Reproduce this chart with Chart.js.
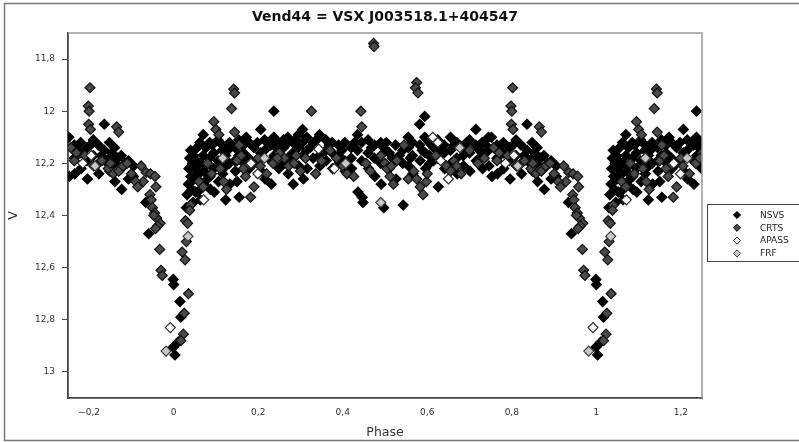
<!DOCTYPE html>
<html>
<head>
<meta charset="utf-8">
<script src="https://cdn.jsdelivr.net/npm/chart.js@4.4.1/dist/chart.umd.min.js"></script>
<style>
  html, body { margin: 0; padding: 0; background: #fff; }
</style>
</head>
<body>
<canvas id="lightCurve" width="799" height="442"></canvas>
<script>
const chartTitle = "Vend44 = VSX J003518.1+404547";
const seriesNames = ["NSVS", "CRTS", "APASS", "FRF"];
const xTicks = [-0.2, 0, 0.2, 0.4, 0.6, 0.8, 1, 1.2];
const yTicks = [11.8, 12, 12.2, 12.4, 12.6, 12.8, 13];

// [phase, V] pairs, phase folded to 0..1 (shown again at phase-1 and phase+1)
const nsvs = [
  [0.999,12.645],[0.000,12.665],[0.003,12.935],[0.999,12.905],[0.015,12.73],[0.017,12.79],[0.011,12.885],
  [0.941,12.47],[0.934,12.35],
  [0.030,12.37],[0.032,12.32],[0.035,12.28],[0.036,12.22],[0.038,12.18],[0.040,12.15],[0.041,12.25],
  [0.043,12.30],[0.044,12.20],[0.046,12.35],[0.047,12.17],[0.049,12.26],[0.050,12.22],[0.052,12.31],[0.053,12.19],
  [0.055,12.14],[0.056,12.26],[0.057,12.31],[0.062,12.12],[0.062,12.20],[0.063,12.34],[0.060,12.24],
  [0.070,12.09],[0.070,12.17],[0.071,12.23],[0.072,12.28],[0.076,12.14],[0.077,12.21],[0.080,12.26],
  [0.085,12.12],[0.085,12.18],[0.086,12.25],[0.087,12.30],[0.095,12.16],[0.095,12.22],[0.096,12.31],[0.091,12.13],
  [0.105,12.11],[0.105,12.19],[0.106,12.27],[0.115,12.13],[0.115,12.15],[0.116,12.24],[0.110,12.20],
  [0.123,12.17],[0.123,12.34],[0.124,12.21],[0.132,12.12],[0.132,12.20],[0.133,12.28],[0.128,12.15],
  [0.145,12.14],[0.145,12.19],[0.146,12.23],[0.154,12.11],[0.154,12.17],[0.155,12.33],[0.150,12.27],
  [0.165,12.13],[0.165,12.16],[0.166,12.20],[0.178,12.12],[0.178,12.18],[0.179,12.22],[0.172,12.10],
  [0.190,12.14],[0.190,12.20],[0.206,12.07],[0.206,12.16],[0.207,12.23],[0.198,12.12],[0.200,12.19],
  [0.215,12.11],[0.215,12.15],[0.216,12.26],[0.230,12.13],[0.230,12.19],[0.231,12.28],[0.222,12.12],
  [0.237,12.00],[0.237,12.10],[0.238,12.17],[0.248,12.12],[0.248,12.16],[0.249,12.22],[0.243,12.14],
  [0.260,12.11],[0.260,12.14],[0.261,12.20],[0.270,12.10],[0.270,12.18],[0.271,12.24],[0.265,12.13],
  [0.282,12.12],[0.282,12.16],[0.283,12.28],[0.295,12.09],[0.295,12.14],[0.296,12.21],[0.288,12.11],
  [0.305,12.07],[0.305,12.12],[0.306,12.17],[0.307,12.26],[0.315,12.10],[0.315,12.15],[0.316,12.22],
  [0.330,12.12],[0.330,12.18],[0.345,12.09],[0.345,12.17],[0.346,12.21],[0.323,12.14],[0.338,12.11],
  [0.360,12.11],[0.360,12.15],[0.361,12.19],[0.375,12.12],[0.375,12.16],[0.376,12.22],[0.368,12.13],
  [0.390,12.13],[0.390,12.17],[0.391,12.20],[0.405,12.12],[0.405,12.19],[0.406,12.23],[0.398,12.15],
  [0.420,12.14],[0.420,12.18],[0.421,12.22],[0.435,12.09],[0.435,12.15],[0.436,12.31],[0.428,12.12],
  [0.445,12.12],[0.445,12.19],[0.446,12.33],[0.448,12.35],[0.460,12.11],[0.460,12.16],[0.461,12.22],
  [0.475,12.13],[0.475,12.18],[0.476,12.25],[0.490,12.12],[0.490,12.20],[0.491,12.28],[0.468,12.14],
  [0.497,12.14],[0.497,12.37],[0.510,12.16],[0.510,12.22],[0.503,12.12],[0.517,12.18],
  [0.525,12.13],[0.525,12.19],[0.526,12.26],[0.542,12.15],[0.542,12.20],[0.543,12.36],[0.534,12.17],
  [0.555,12.10],[0.555,12.14],[0.556,12.21],[0.565,12.12],[0.565,12.17],[0.566,12.24],[0.560,12.18],
  [0.582,12.05],[0.582,12.13],[0.583,12.19],[0.594,12.02],[0.594,12.10],[0.595,12.16],[0.596,12.22],
  [0.605,12.12],[0.605,12.17],[0.606,12.20],[0.615,12.14],[0.615,12.19],[0.588,12.15],[0.610,12.13],
  [0.625,12.11],[0.625,12.18],[0.626,12.29],[0.640,12.13],[0.640,12.16],[0.641,12.22],[0.633,12.15],
  [0.655,12.10],[0.655,12.15],[0.656,12.20],[0.670,12.12],[0.670,12.18],[0.671,12.24],[0.663,12.13],
  [0.685,12.14],[0.685,12.17],[0.686,12.21],[0.700,12.11],[0.700,12.16],[0.701,12.23],[0.693,12.12],
  [0.715,12.07],[0.715,12.13],[0.716,12.19],[0.730,12.12],[0.730,12.17],[0.731,12.22],[0.723,12.15],
  [0.745,12.10],[0.745,12.15],[0.746,12.21],[0.752,12.10],[0.753,12.25],[0.738,12.13],
  [0.765,12.13],[0.765,12.18],[0.766,12.24],[0.780,12.12],[0.780,12.16],[0.781,12.22],[0.772,12.15],
  [0.795,12.14],[0.795,12.19],[0.796,12.26],[0.810,12.11],[0.810,12.17],[0.811,12.21],[0.803,12.13],
  [0.822,12.13],[0.822,12.20],[0.823,12.24],[0.836,12.05],[0.836,12.15],[0.837,12.19],[0.829,12.17],
  [0.848,12.12],[0.848,12.18],[0.849,12.23],[0.860,12.14],[0.860,12.20],[0.861,12.27],[0.854,12.16],
  [0.876,12.17],[0.876,12.22],[0.877,12.30],[0.893,12.19],[0.893,12.26],[0.905,12.21],[0.905,12.25],
  [0.885,12.20],[0.868,12.18]
];

const crts = [
  [0.028,12.42],[0.033,12.43],[0.030,12.50],[0.020,12.54],[0.027,12.57],[0.035,12.70],[0.025,12.775],
  [0.023,12.855],[0.017,12.88],[0.040,12.36],[0.038,12.38],
  [0.923,12.21],[0.935,12.235],[0.945,12.24],[0.956,12.25],[0.928,12.27],[0.958,12.29],[0.944,12.32],
  [0.947,12.34],[0.950,12.37],[0.955,12.39],[0.960,12.41],[0.953,12.40],[0.968,12.43],[0.962,12.44],
  [0.957,12.45],[0.967,12.53],[0.970,12.61],[0.973,12.63],
  [0.137,11.99],[0.142,11.915],[0.144,11.93],[0.326,12.00],[0.443,12.00],[0.445,12.06],
  [0.473,11.74],[0.474,11.752],[0.575,11.89],[0.572,11.91],[0.578,11.93],
  [0.798,11.98],[0.800,12.00],[0.802,11.91],[0.799,12.05],[0.803,12.07],[0.865,12.06],[0.870,12.08],
  [0.095,12.04],[0.100,12.07],[0.107,12.09],[0.144,12.08],
  [0.060,12.27],[0.070,12.29],[0.080,12.20],[0.090,12.24],[0.110,12.22],[0.118,12.27],[0.125,12.30],
  [0.150,12.19],[0.155,12.13],[0.160,12.17],[0.170,12.25],[0.175,12.21],[0.182,12.33],[0.190,12.29],
  [0.200,12.18],[0.220,12.24],[0.235,12.20],[0.250,12.16],[0.262,12.18],[0.272,12.21],[0.290,12.17],
  [0.300,12.23],[0.312,12.18],[0.336,12.24],[0.350,12.19],[0.370,12.15],[0.400,12.21],[0.410,12.24],
  [0.426,12.25],[0.455,12.20],[0.490,12.17],[0.500,12.20],[0.505,12.22],[0.512,12.25],[0.520,12.28],
  [0.528,12.19],[0.545,12.13],[0.555,12.26],[0.568,12.23],[0.575,12.26],[0.583,12.29],[0.590,12.32],
  [0.598,12.27],[0.620,12.17],[0.645,12.21],[0.663,12.19],[0.670,12.21],[0.680,12.24],[0.700,12.15],
  [0.720,12.20],[0.735,12.18],[0.757,12.14],[0.770,12.16],[0.790,12.17],[0.830,12.19],[0.845,12.22],
  [0.857,12.24],[0.870,12.23],[0.880,12.21],[0.890,12.20],[0.900,12.24],[0.910,12.27],[0.915,12.29],
  [0.165,12.22],[0.205,12.21],[0.245,12.18],[0.285,12.20],[0.385,12.18],[0.465,12.23],[0.515,12.21],
  [0.600,12.24],[0.655,12.23],[0.765,12.19],[0.850,12.20]
];

const apass = [
  [0.071,12.34],[0.199,12.24],[0.183,12.20],[0.343,12.145],[0.380,12.22],[0.613,12.10],[0.625,12.12],
  [0.632,12.19],[0.650,12.26],[0.785,12.20],[0.805,12.17],[0.992,12.83]
];

const frf = [
  [0.982,12.92],[0.034,12.48],[0.116,12.18],[0.215,12.18],[0.407,12.20],[0.490,12.35],[0.677,12.14],
  [0.814,12.21]
];

function unfold(points) {
  const out = [];
  points.forEach(([p, m]) => {
    [p - 1, p, p + 1].forEach(x => {
      if (x >= -0.25 && x <= 1.25) out.push({ x: x, y: m });
    });
  });
  return out;
}

function fmt(v) {
  return String(Math.round(v * 10) / 10).replace('.', ',').replace('-', '\u2212');
}

const fills = ["#000000", "#4a4a4a", "#ffffff", "#c8c8c8"];
const edges = ["#000000", "#111111", "#2a2a2a", "#3a3a3a"];

const frame = {
  id: 'frame',
  afterDraw(chart) {
    const ctx = chart.ctx;
    const a = chart.chartArea;
    ctx.save();
    // outer border of the picture
    ctx.strokeStyle = '#777';
    ctx.lineWidth = 1.5;
    ctx.beginPath();
    ctx.moveTo(820, 3.5);
    ctx.lineTo(4.5, 3.5);
    ctx.lineTo(4.5, 440.5);
    ctx.lineTo(820, 440.5);
    ctx.stroke();
    // top and right spines
    ctx.strokeStyle = '#999';
    ctx.beginPath();
    ctx.moveTo(a.left, a.top);
    ctx.lineTo(a.right, a.top);
    ctx.lineTo(a.right, a.bottom);
    ctx.stroke();
    // title
    ctx.fillStyle = '#111';
    ctx.font = 'bold 14px "DejaVu Sans"';
    ctx.textAlign = 'center';
    ctx.textBaseline = 'middle';
    ctx.fillText(chartTitle, (a.left + a.right) / 2, 17);
    // legend
    const lx = 707, ly = 204;
    ctx.fillStyle = '#fff';
    ctx.fillRect(lx, ly, 100, 58);
    ctx.strokeStyle = '#444';
    ctx.lineWidth = 1;
    ctx.strokeRect(lx + 0.5, ly + 0.5, 100, 57);
    ctx.font = '9px "DejaVu Sans"';
    ctx.textAlign = 'left';
    seriesNames.forEach((name, i) => {
      const y = 215 + i * 12.8;
      const r = 3.6;
      ctx.beginPath();
      ctx.moveTo(737 - r, y);
      ctx.lineTo(737, y - r);
      ctx.lineTo(737 + r, y);
      ctx.lineTo(737, y + r);
      ctx.closePath();
      ctx.fillStyle = fills[i];
      ctx.fill();
      ctx.strokeStyle = edges[i];
      ctx.stroke();
      ctx.fillStyle = '#222';
      ctx.fillText(name, 760, y + 0.5);
    });
    ctx.restore();
  }
};

const seriesData = [nsvs, crts, apass, frf];

new Chart(document.getElementById('lightCurve'), {
  type: 'scatter',
  data: {
    datasets: seriesData.map((pts, i) => ({
      label: seriesNames[i],
      data: unfold(pts),
      pointStyle: 'rectRot',
      pointRadius: 5,
      borderWidth: 1.2,
      backgroundColor: fills[i],
      borderColor: edges[i],
      order: 3 - i
    }))
  },
  options: {
    responsive: false,
    animation: false,
    layout: { padding: { top: 33, right: 97, left: 0, bottom: 0 } },
    plugins: {
      legend: { display: false },
      title: { display: false },
      tooltip: { enabled: false }
    },
    scales: {
      x: {
        type: 'linear',
        min: -0.25,
        max: 1.25,
        afterBuildTicks: s => { s.ticks = xTicks.map(v => ({ value: v })); },
        afterFit: s => { s.height = 44; },
        grid: { drawOnChartArea: false, color: 'transparent', tickLength: 6 },
        border: { color: '#444', width: 1.8 },
        ticks: {
          font: { family: 'DejaVu Sans', size: 9 },
          color: '#333',
          padding: 3,
          maxRotation: 0,
          callback: v => fmt(v)
        },
        title: {
          display: true,
          text: 'Phase',
          font: { family: 'DejaVu Sans', size: 12.5 },
          color: '#333',
          padding: { top: 0, bottom: 2 }
        }
      },
      y: {
        reverse: true,
        min: 11.7,
        max: 13.1,
        afterBuildTicks: s => { s.ticks = yTicks.map(v => ({ value: v })); },
        afterFit: s => { s.width = 68; },
        grid: { drawOnChartArea: false, color: '#444', tickLength: 6 },
        border: { color: '#444', width: 1.8 },
        ticks: {
          font: { family: 'DejaVu Sans', size: 9 },
          color: '#333',
          padding: 7,
          callback: v => fmt(v)
        },
        title: {
          display: true,
          text: 'V',
          font: { family: 'DejaVu Sans', size: 12.5 },
          color: '#333',
          padding: { top: 6, bottom: 0 }
        }
      }
    }
  },
  plugins: [frame]
});
</script>
</body>
</html>
